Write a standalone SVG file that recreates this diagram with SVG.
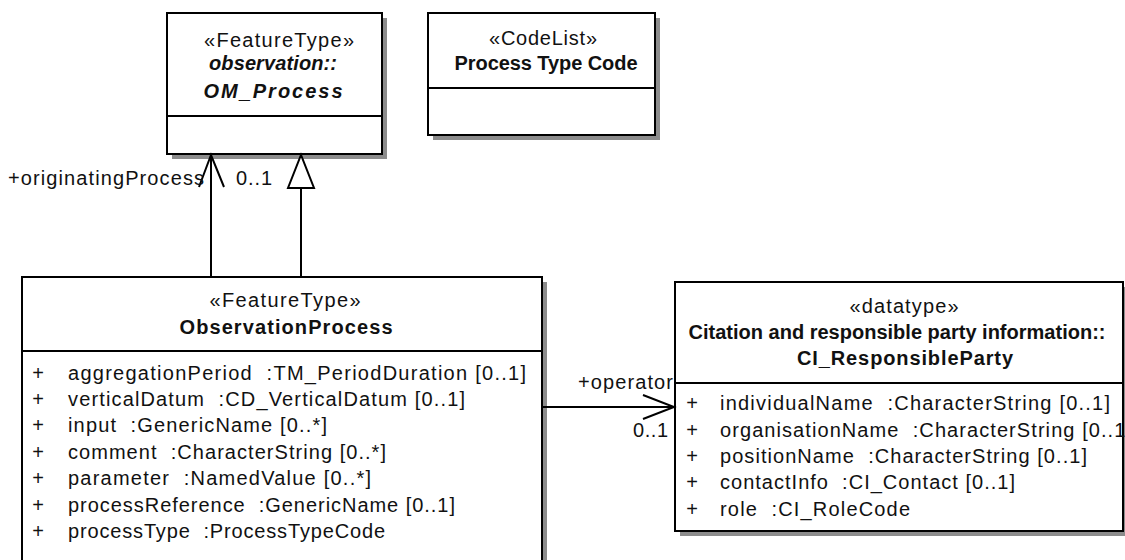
<svg xmlns="http://www.w3.org/2000/svg" width="1125" height="560" viewBox="0 0 1125 560">
<style>
.bx{fill:#fff;stroke:#000;stroke-width:2}
.sh{fill:#8c8c8c;stroke:none}
.dv{stroke:#000;stroke-width:2}
.ln{stroke:#000;stroke-width:2;fill:none}
text{font-family:"Liberation Sans",Arial,sans-serif;font-size:20px;fill:#111}
.c{text-anchor:middle}
.b{font-weight:bold}
.bi{font-weight:bold;font-style:italic}
.e{text-anchor:end}
</style>
<rect width="1125" height="560" fill="#fff"/>
<g id="om_process">
<rect class="sh" x="172" y="18" width="215" height="141"/>
<rect class="bx" x="167" y="13" width="215" height="141"/>
<line class="dv" x1="167" y1="116" x2="382" y2="116"/>
<text class="c" x="279" y="47" textLength="150" lengthAdjust="spacing">«FeatureType»</text>
<text class="c bi" x="273" y="70" textLength="128" lengthAdjust="spacing">observation::</text>
<text class="c bi" x="273" y="98" textLength="139" lengthAdjust="spacing">OM_Process</text>
</g>
<g id="process_type_code">
<rect class="sh" x="433" y="18" width="227" height="122"/>
<rect class="bx" x="428" y="13" width="227" height="122"/>
<line class="dv" x1="428" y1="88" x2="655" y2="88"/>
<text class="c" x="543" y="45" textLength="108" lengthAdjust="spacing">«CodeList»</text>
<text class="c b" x="546" y="70" textLength="183" lengthAdjust="spacing">Process Type Code</text>
</g>
<g id="observation_process">
<rect class="sh" x="27" y="282" width="520" height="300"/>
<rect class="bx" x="22" y="277" width="520" height="300"/>
<line class="dv" x1="22" y1="351" x2="542" y2="351"/>
<text class="c" x="285" y="307" textLength="151" lengthAdjust="spacing">«FeatureType»</text>
<text class="c b" x="286" y="334" textLength="213" lengthAdjust="spacing">ObservationProcess</text>
<g>
<text class="c" x="38" y="380">+</text>
<text class="c" x="38" y="406">+</text>
<text class="c" x="38" y="432">+</text>
<text class="c" x="38" y="459">+</text>
<text class="c" x="38" y="485">+</text>
<text class="c" x="38" y="512">+</text>
<text class="c" x="38" y="538">+</text>
<text x="68" y="380" textLength="458" lengthAdjust="spacing">aggregationPeriod&#160;&#160;:TM_PeriodDuration [0..1]</text>
<text x="68" y="406" textLength="397" lengthAdjust="spacing">verticalDatum&#160;&#160;:CD_VerticalDatum [0..1]</text>
<text x="68" y="432" textLength="259" lengthAdjust="spacing">input&#160;&#160;:GenericName [0..*]</text>
<text x="68" y="459" textLength="318" lengthAdjust="spacing">comment&#160;&#160;:CharacterString [0..*]</text>
<text x="68" y="485" textLength="303" lengthAdjust="spacing">parameter&#160;&#160;:NamedValue [0..*]</text>
<text x="68" y="512" textLength="387" lengthAdjust="spacing">processReference&#160;&#160;:GenericName [0..1]</text>
<text x="68" y="538" textLength="317" lengthAdjust="spacing">processType&#160;&#160;:ProcessTypeCode</text>
</g>
</g>
<g id="ci_responsible_party">
<rect class="sh" x="680" y="287" width="448" height="249"/>
<rect class="bx" x="675" y="282" width="448" height="249"/>
<line class="dv" x1="675" y1="383" x2="1123" y2="383"/>
<text class="c" x="904" y="313" textLength="109" lengthAdjust="spacing">«datatype»</text>
<text class="c b" x="897" y="339" textLength="417" lengthAdjust="spacing">Citation and responsible party information::</text>
<text class="c b" x="905" y="365" textLength="216" lengthAdjust="spacing">CI_ResponsibleParty</text>
<g>
<text class="c" x="692" y="410">+</text>
<text class="c" x="692" y="437">+</text>
<text class="c" x="692" y="463">+</text>
<text class="c" x="692" y="489">+</text>
<text class="c" x="692" y="516">+</text>
<text x="720" y="410" textLength="390" lengthAdjust="spacing">individualName&#160;&#160;:CharacterString [0..1]</text>
<text x="720" y="437" textLength="412" lengthAdjust="spacing">organisationName&#160;&#160;:CharacterString [0..1]</text>
<text x="720" y="463" textLength="367" lengthAdjust="spacing">positionName&#160;&#160;:CharacterString [0..1]</text>
<text x="720" y="489" textLength="295" lengthAdjust="spacing">contactInfo&#160;&#160;:CI_Contact [0..1]</text>
<text x="720" y="516" textLength="190" lengthAdjust="spacing">role&#160;&#160;:CI_RoleCode</text>
</g>
</g>
<g id="connectors">
<line class="ln" x1="211" y1="277" x2="211" y2="155"/>
<polyline class="ln" points="199,187 211,155 224,187"/>
<line class="ln" x1="301" y1="277" x2="301" y2="188"/>
<polygon class="ln" points="288,188 314,188 301,155" style="fill:#fff"/>
<line class="ln" x1="542" y1="407" x2="674" y2="407"/>
<polyline class="ln" points="643,395 674,407 643,419"/>
<text x="8" y="185" textLength="196" lengthAdjust="spacing">+originatingProcess</text>
<text x="236" y="185" textLength="36" lengthAdjust="spacing">0..1</text>
<text class="e" x="673" y="389" textLength="95" lengthAdjust="spacing">+operator</text>
<text class="e" x="668" y="437" textLength="35" lengthAdjust="spacing">0..1</text>
</g>
</svg>
